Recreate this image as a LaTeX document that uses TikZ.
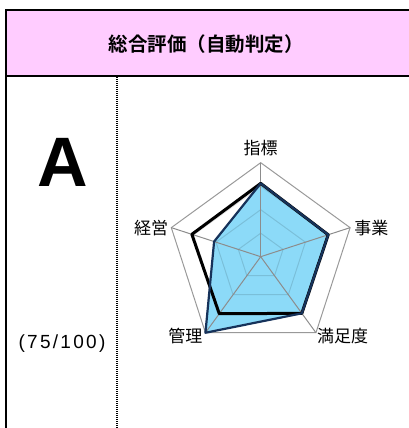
\documentclass[tikz,border=0pt]{standalone}
\usepackage{fontspec}
\setmainfont{Liberation Sans}
\newfontfamily\cjk{Noto Sans CJK JP}[BoldFont={Noto Sans CJK JP Bold}]
\usepackage{tikz}
\usetikzlibrary{positioning}
\definecolor{headpink}{RGB}{255,204,255}
\definecolor{radarblue}{RGB}{140,218,248}
\definecolor{radarnavy}{RGB}{22,50,90}

\begin{document}
\begin{tikzpicture}[x=1pt,y=1pt,
  axislabel/.style={font=\cjk\fontsize{17}{17}\selectfont,inner sep=1pt}]

  \useasboundingbox (0,0) rectangle (409,428);

  % header band
  \fill[headpink] (6,418) rectangle (409,352);
  \draw[line width=2pt] (409,418) -- (6,418) -- (6,0);
  \draw[line width=2pt] (6,352) -- (409,352);
  \node (title) at (206,384) {\cjk\bfseries\fontsize{19.5}{19.5}\selectfont 総合評価（自動判定）};
  \draw[line width=2pt,dash pattern=on 1pt off 1pt] (117,351) -- (117,0);

  % grade
  \node (grade) at (63,266) {\bfseries\fontsize{70}{70}\selectfont A};
  \node[anchor=base] (score) at (62,79.7) {\fontsize{19}{19}\selectfont\addfontfeature{LetterSpace=12}(75/100)};

  % radar chart
  \begin{scope}[shift={(260.7,171.3)}]
    \foreach \a [count=\i] in {90,18,-54,-126,162}
      \path (0,0) ++(\a:94) coordinate (v\i);
    \fill[radarblue] (90:73.3) -- (18:71) -- (-54:70) -- (-126:94) -- (162:49) -- cycle;
    \foreach \r in {23.5,47,70.5}
      \draw[black,opacity=0.12,line width=1pt] (90:\r) -- (18:\r) -- (-54:\r) -- (-126:\r) -- (162:\r) -- cycle;
    \draw[black!40,line width=1pt] (v1) -- (v2) -- (v3) -- (v4) -- (v5) -- cycle;
    \foreach \i in {1,...,5}
      \draw[black!45,line width=1pt] (0,0) -- (v\i);
    \draw[black,line width=3pt,line join=round] (90:73.3) -- (18:71) -- (-54:70) -- (-126:70.5) -- (162:72.4) -- cycle;
    \draw[radarnavy,line width=2.2pt,line join=round] (90:73.3) -- (18:71) -- (-54:70) -- (-126:94) -- (162:49) -- cycle;
  \end{scope}

  \node[axislabel,above=6pt of v1] (l1) {指標};
  \node[axislabel,right=3pt of v2] (l2) {事業};
  \node[axislabel,right=0pt of v3,yshift=-3pt] (l3) {満足度};
  \node[axislabel,left=2pt of v4,yshift=-3pt] (l4) {管理};
  \node[axislabel,left=2pt of v5] (l5) {経営};
\end{tikzpicture}
\end{document}
